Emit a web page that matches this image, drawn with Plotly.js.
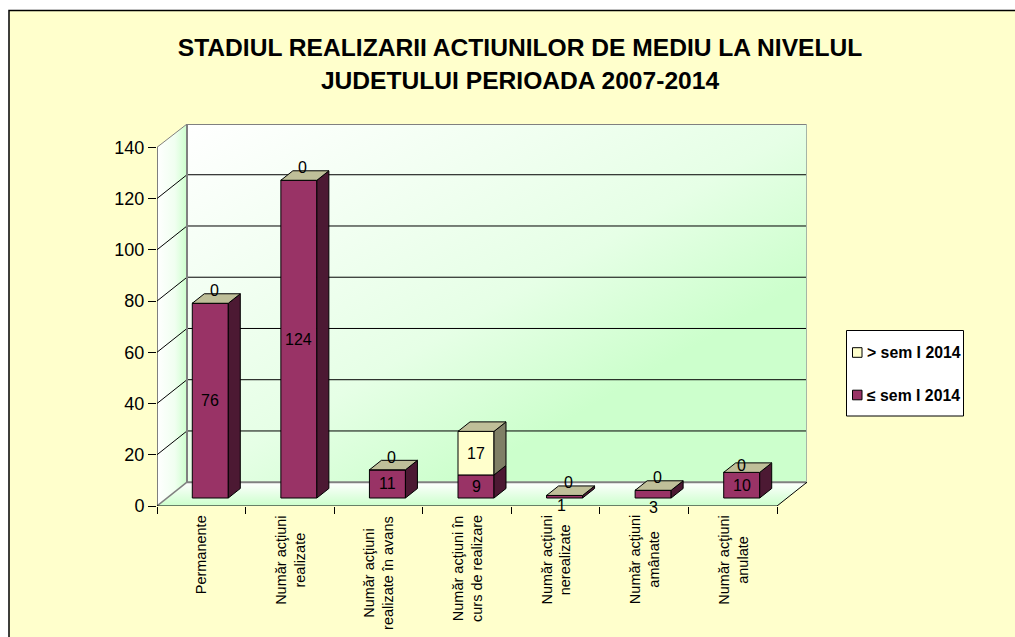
<!DOCTYPE html>
<html>
<head>
<meta charset="utf-8">
<script src="https://cdn.plot.ly/plotly-3.0.1.min.js"></script>
<style>html,body{margin:0;padding:0;background:#fff}#chart{width:1015px;height:637px}</style>
</head>
<body>
<div id="chart"></div>
<script>
var categories = ["Permanente","Număr acţiuni<br>realizate","Număr acţiuni<br>realizate în avans","Număr acţiuni în<br>curs de realizare","Număr acţiuni<br>nerealizate","Număr acţiuni<br>amânate","Număr acţiuni<br>anulate"];
var seriesLower = [76,124,11,9,1,3,10];
var seriesUpper = [0,0,0,17,0,0,0];
var yTicks = [0,20,40,60,80,100,120,140];
var titleLine1 = "STADIUL REALIZARII ACTIUNILOR DE MEDIU LA NIVELUL";
var titleLine2 = "JUDETULUI PERIOADA 2007-2014";
var nameLower = "≤ sem I 2014";
var nameUpper = "> sem I 2014";

// Geometry (pixels of the oblique 3D box)
var W=1015,H=637, L=157,R=807,T=124,B=506;
var pxX=620/7, pxY=358.7/140;
var wallDX=30/pxX, wallDY=23.8/pxY;      // box depth, data units
var barDX=12/pxX, barDY=9.5/pxY;         // bar depth
var barShift=9/pxX, barBase=8/pxY, barW=36/pxX;
var xMin=-0.5, xFront=6.5, xMax=xMin+(R-L)/pxX, yMax=(B-T)/pxY;
var xs=categories.map(function(_,i){return i+barShift;});

var purple="#993366",purpleSide="#4C1933",cream="#FFFFCC",creamSide="#7F7F66",creamTop="#BFBF99";
var font="Liberation Sans, Arial, sans-serif";
var pw=R-L,ph=B-T;
function px(v){return (v-L)/pw;}
function py(v){return (B-v)/ph;}

function gradImg(pts,stops,vec,x,y,sx,sy){
  var st=stops.map(function(s){return "<stop offset='"+s[0]+"' stop-color='"+s[1]+"'/>";}).join("");
  var svg="<svg xmlns='http://www.w3.org/2000/svg' width='"+Math.round(sx*pxX)+"' height='"+Math.round(sy*pxY)+"' viewBox='0 0 100 100' preserveAspectRatio='none'>"+
   "<defs><linearGradient id='g' x1='"+vec[0]+"' y1='"+vec[1]+"' x2='"+vec[2]+"' y2='"+vec[3]+"'>"+st+"</linearGradient></defs>"+
   "<polygon points='"+pts+"' fill='url(#g)'/></svg>";
  return {source:"data:image/svg+xml;charset=utf-8,"+encodeURIComponent(svg),xref:"x",yref:"y",x:x,y:y,sizex:sx,sizey:sy,sizing:"stretch",xanchor:"left",yanchor:"top",layer:"below"};
}
var fy=100*wallDY/yMax, fx=100*wallDX/(xMax-xMin);
var images=[
  gradImg("0,0 100,0 100,100 0,100",[[0,"#FFFFFF"],[0.5,"#E6FFE6"],[0.72,"#CCFFCC"]],[0,0,1,1],xMin+wallDX,yMax,xMax-xMin-wallDX,yMax-wallDY),
  gradImg("0,"+fy+" 100,0 100,"+(100-fy)+" 0,100",[[0,"#FFFFFF"],[0.6,"#F0FFF0"],[1,"#CCFFCC"]],[0,0,1,0],xMin,yMax,wallDX,yMax),
  gradImg("0,100 "+fx+",0 100,0 "+(100-fx)+",100",[[0,"#FFFFFF"],[1,"#CCFFCC"]],[0,0,0,1],xMin,wallDY,xMax-xMin,wallDY)
];

function seg(x0,y0,x1,y1,color,w){
  return {type:"line",layer:"between",xref:"x",yref:"y",x0:x0,y0:y0,x1:x1,y1:y1,line:{color:color,width:w}};
}
var shapes=[];
// frame on the page
shapes.push({type:"rect",xref:"paper",yref:"paper",layer:"below",
  x0:px(9),x1:px(W+5),y0:py(H+5),y1:py(10.5),fillcolor:cream,line:{color:"#000000",width:1.5}});
yTicks.forEach(function(v){
  if(v===0||v===140) return;
  shapes.push(seg(xMin+wallDX,v+wallDY,xMax,v+wallDY,"#000000",1));
  shapes.push(seg(xMin,v,xMin+wallDX,v+wallDY,"#000000",1));
});
var gray="#808080";
shapes.push(seg(xMin+wallDX,yMax,xMax,yMax,gray,2));
shapes.push(seg(xMin+wallDX,wallDY,xMax,wallDY,gray,2));
shapes.push(seg(xMin+wallDX,wallDY,xMin+wallDX,yMax,gray,2));
shapes.push(seg(xMax,wallDY,xMax,yMax,"#A6B5A6",2));
shapes.push(seg(xMin,140,xMin+wallDX,yMax,gray,1));
shapes.push(seg(xMin,0,xMin+wallDX,wallDY,gray,1.5));
shapes.push(seg(xFront,0,xMax,wallDY,"#000000",1));
shapes.push(seg(xMin,0,xFront,0,"#000000",1));
shapes.push(seg(xMin,0,xMin,140,"#000000",1));

function barTrace(name,vals,bases,color){
  return {type:"bar",name:name,x:xs,y:vals,base:bases,width:barW,
    marker:{color:color,line:{color:"#000000",width:1}},cliponaxis:false,hoverinfo:"name+y",showlegend:false};
}
function poly(xa,ya,color){
  return {type:"scatter",mode:"lines",x:xa,y:ya,fill:"toself",fillcolor:color,
    line:{color:"#000000",width:1},showlegend:false,hoverinfo:"skip",cliponaxis:false};
}
var baseLower=seriesLower.map(function(){return barBase;});
var baseUpper=seriesLower.map(function(v){return barBase+v;});
var traces=[barTrace(nameLower,seriesLower,baseLower,purple),barTrace(nameUpper,seriesUpper,baseUpper,cream)];
var annotations=[];

categories.forEach(function(c,i){
  var l=xs[i]-barW/2,r=xs[i]+barW/2;
  var y0=barBase,y1=y0+seriesLower[i],y2=y1+seriesUpper[i];
  traces.push(poly([r,r+barDX,r+barDX,r,r],[y0,y0+barDY,y1+barDY,y1,y0],purpleSide));
  if(seriesUpper[i]>0) traces.push(poly([r,r+barDX,r+barDX,r,r],[y1,y1+barDY,y2+barDY,y2,y1],creamSide));
  traces.push(poly([l,r,r+barDX,l+barDX,l],[y2,y2,y2+barDY,y2+barDY,y2],creamTop));
});

function label(x,y,text,xs_,ys_){
  annotations.push({xref:"x",yref:"y",x:x,y:y,text:String(text),showarrow:false,xshift:xs_||0,yshift:ys_||0,
    font:{family:font,size:16,color:"#000000"},xanchor:"center",yanchor:"middle"});
}
categories.forEach(function(c,i){
  var lo=seriesLower[i],up=seriesUpper[i];
  if(lo<=3) label(xs[i],0,lo,lo===1?-3:0,lo===1?1:-1);
  else label(xs[i],barBase+lo/2,lo);
  if(up>0) label(xs[i],barBase+lo+up/2,up);
  else if(lo===10) label(xs[i],barBase+lo,up,0,6.5);
  else label(xs[i],barBase+lo,up,4,12.5);
  // category labels
  annotations.push({xref:"x",yref:"paper",x:i,y:py(513.5),text:c,showarrow:false,textangle:-90,align:"center",
    xanchor:"center",yanchor:"top",font:{family:font,size:14.5,color:"#000000"}});
});

// legend box
shapes.push({type:"rect",xref:"paper",yref:"paper",layer:"above",x0:px(846.5),x1:px(963.5),y0:py(416),y1:py(330.5),fillcolor:"#FFFFFF",line:{color:"#000000",width:1}});
[[nameUpper,cream,352.5],[nameLower,purple,395]].forEach(function(e){
  shapes.push({type:"rect",xref:"paper",yref:"paper",layer:"above",x0:px(852.5),x1:px(862),y0:py(e[2]+4.8),y1:py(e[2]-4.8),fillcolor:e[1],line:{color:"#000000",width:1}});
  annotations.push({xref:"paper",yref:"paper",x:px(865),y:py(e[2]),text:"<b>"+e[0]+"</b>",showarrow:false,xanchor:"left",yanchor:"middle",
    font:{family:font,size:15.8,color:"#000000"}});
});

var layout={
  width:W,height:H,margin:{l:L,r:W-R,t:T,b:H-B,pad:0},
  paper_bgcolor:"#FFFFFF",plot_bgcolor:"rgba(0,0,0,0)",
  barmode:"overlay",showlegend:false,
  title:{text:"<span style='font-size:24.6px'>"+titleLine1+"<br>"+titleLine2+"</span>",
    font:{family:font,size:25.6,color:"#000000",weight:"bold"},x:520/W,xanchor:"center",y:1-56/H,yanchor:"top"},
  xaxis:{range:[xMin,xMax],showgrid:false,zeroline:false,showline:false,
    tickmode:"array",tickvals:[],ticks:"",showticklabels:false,
    minor:{tickmode:"array",tickvals:categories.map(function(_,i){return i-0.5;}).concat([xFront]),ticks:"outside",ticklen:7,tickwidth:1,tickcolor:"#000000",showgrid:false}},
  yaxis:{range:[0,yMax],showgrid:false,zeroline:false,showline:false,tickmode:"array",tickvals:yTicks,
    ticks:"outside",ticklen:8,tickwidth:1,tickcolor:"#000000",
    tickfont:{family:font,size:18,color:"#000000"}},
  images:images,shapes:shapes,annotations:annotations
};
Plotly.newPlot("chart",traces,layout,{displayModeBar:false,responsive:false});
</script>
</body>
</html>
